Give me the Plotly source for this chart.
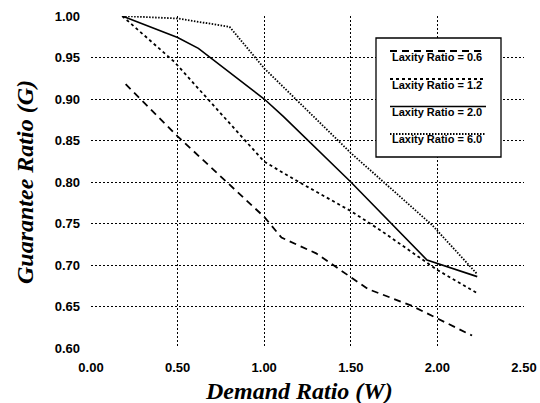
import plotly.graph_objects as go

# Data
x_lax06 = [0.20, 0.50, 1.00, 1.10, 1.30, 1.50, 1.60, 1.85, 2.00, 2.20]
y_lax06 = [0.918, 0.855, 0.758, 0.733, 0.714, 0.685, 0.671, 0.651, 0.636, 0.615]

x_lax12 = [0.18, 0.48, 1.00, 1.20, 1.50, 1.67, 2.00, 2.23]
y_lax12 = [1.000, 0.945, 0.8245, 0.800, 0.765, 0.742, 0.694, 0.666]

x_lax20 = [0.18, 0.50, 0.62, 0.80, 1.00, 1.11, 1.50, 1.94, 2.23]
y_lax20 = [1.000, 0.974, 0.961, 0.932, 0.900, 0.879, 0.800, 0.706, 0.686]

x_lax60 = [0.18, 0.50, 0.80, 1.00, 1.50, 1.97, 2.23]
y_lax60 = [1.000, 0.997, 0.987, 0.937, 0.835, 0.748, 0.689]

legend_labels = ["Laxity Ratio = 0.6", "Laxity Ratio = 1.2",
                 "Laxity Ratio = 2.0", "Laxity Ratio = 6.0"]
x_ticks = [0.0, 0.5, 1.0, 1.5, 2.0, 2.5]
y_ticks = [0.60, 0.65, 0.70, 0.75, 0.80, 0.85, 0.90, 0.95, 1.00]
x_title = "Demand Ratio (W)"
y_title = "Guarantee Ratio (G)"

styles = [
    dict(dash="7px,5px", width=1.8),
    dict(dash="3px,3px", width=1.8),
    dict(dash="solid", width=1.6),
    dict(dash="1.5px,1.5px", width=1.8),
]

fig = go.Figure()
series = [(x_lax06, y_lax06), (x_lax12, y_lax12), (x_lax20, y_lax20), (x_lax60, y_lax60)]
for (xs, ys), lab, st in zip(series, legend_labels, styles):
    fig.add_trace(go.Scatter(x=xs, y=ys, mode="lines", name=lab, showlegend=False,
                             hoverinfo="skip",
                             line=dict(color="black", width=st["width"], dash=st["dash"])))

W, H = 540, 403
L, R, T, B = 91, 16, 16, 55
pw, ph = W - L - R, H - T - B
# helpers converting pixel positions to paper coordinates
def px(xp): return (xp - L) / pw
def py(yp): return (H - B - yp) / ph

shapes = [dict(type="rect", xref="paper", yref="paper",
               x0=px(376), x1=px(501), y0=py(157), y1=py(38),
               line=dict(color="black", width=1.3), fillcolor="white", layer="above")]
annotations = []
text_y = [57, 85, 112, 138.5]
line_y = [51, 79, 106.5, 134]
for lab, st, ty, ly in zip(legend_labels, styles, text_y, line_y):
    shapes.append(dict(type="line", xref="paper", yref="paper",
                       x0=px(390), x1=px(486), y0=py(ly), y1=py(ly),
                       line=dict(color="black", width=st["width"], dash=st["dash"]),
                       layer="above"))
    annotations.append(dict(text=lab, xref="paper", yref="paper", x=px(437), y=py(ty),
                            showarrow=False, xanchor="center", yanchor="middle",
                            font=dict(family="Liberation Sans, Arial", size=11, color="black",
                                      weight="bold")))

title_font = dict(family="Liberation Serif, Times New Roman", size=24,
                  weight="bold", style="italic", color="black")
annotations.append(dict(text=x_title, xref="paper", yref="paper", x=px(299), y=py(391),
                        showarrow=False, xanchor="center", yanchor="middle", font=title_font))
annotations.append(dict(text=y_title, xref="paper", yref="paper", x=px(25), y=py(182),
                        showarrow=False, xanchor="center", yanchor="middle", textangle=-90,
                        font=title_font))

fig.update_layout(
    width=W, height=H,
    margin=dict(l=L, r=R, t=T, b=B, autoexpand=False),
    paper_bgcolor="white", plot_bgcolor="white",
    shapes=shapes, annotations=annotations,
    font=dict(family="Liberation Sans, Arial", color="black"),
    hovermode=False,
)
tick_font = dict(size=13, family="Liberation Sans, Arial", weight="bold", color="black")
fig.update_xaxes(
    range=[0, 2.5], tickvals=x_ticks, tickformat=".2f",
    showgrid=True, gridcolor="black", gridwidth=1, griddash="2px,2px",
    zeroline=False, showline=False, ticks="",
    tickfont=tick_font, ticklabelstandoff=10,
)
fig.update_yaxes(
    range=[0.6, 1.0], tickvals=y_ticks, tickformat=".2f",
    showgrid=True, gridcolor="black", gridwidth=1, griddash="2px,2px",
    zeroline=False, showline=False, ticks="",
    tickfont=tick_font, ticklabelstandoff=10,
)

fig.write_html("out.html",
               config={"displayModeBar": False},
               post_script="document.body.style.margin='0px';"
                           "document.body.style.overflow='hidden';")
